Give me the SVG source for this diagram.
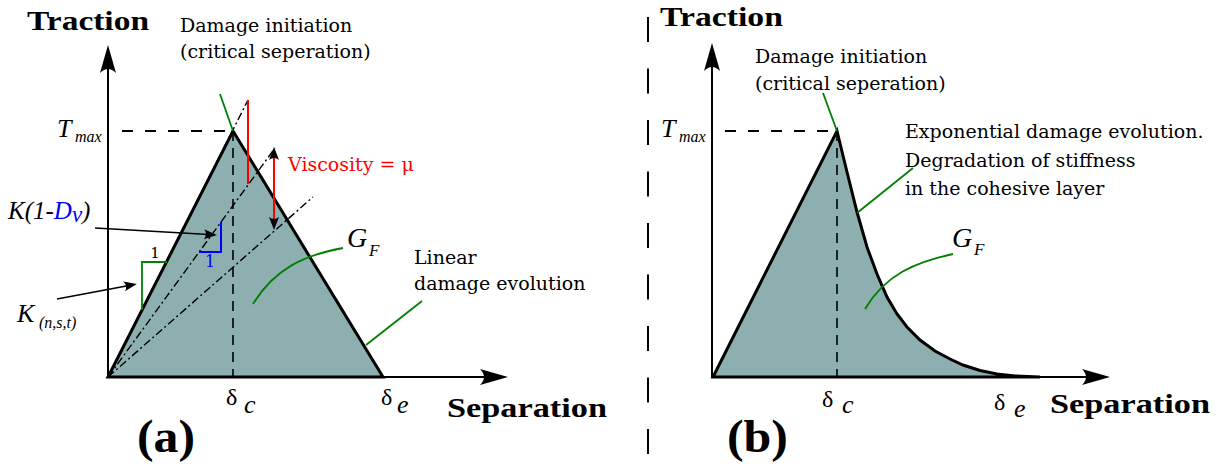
<svg xmlns="http://www.w3.org/2000/svg" width="1223" height="467" viewBox="0 0 1223 467">
<style>
.ax{stroke:#000;stroke-width:2;fill:none}
.edge{stroke:#000;stroke-width:3;fill:#8eafb0;stroke-linejoin:miter}
.dash{stroke:#000;stroke-width:1.8;fill:none;stroke-dasharray:11 12}
.vdash{stroke:#000;stroke-width:1.6;fill:none;stroke-dasharray:10 7}
.dd{stroke:#000;stroke-width:1.4;fill:none;stroke-dasharray:8 3 2 3}
.gr{stroke:#007f00;stroke-width:1.8;fill:none}
.bl{stroke:#0000ff;stroke-width:2;fill:none}
.rd{stroke:#ff0000;stroke-width:2;fill:none}
.ptr{stroke:#000;stroke-width:1.6;fill:none}
</style>
<defs>
<marker id="ah" viewBox="-30 -10 32 20" refX="-20" refY="0" markerWidth="32" markerHeight="20" markerUnits="userSpaceOnUse" orient="auto">
<path d="M0,0 L-28,-8 Q-20,0 -28,8 Z" fill="#000"/>
</marker>
<marker id="sa" viewBox="-14 -6 15 12" refX="-8" refY="0" markerWidth="15" markerHeight="12" markerUnits="userSpaceOnUse" orient="auto-start-reverse">
<path d="M0,0 L-13,-5 Q-9,0 -13,5 Z" fill="#000"/>
</marker>
</defs>
<rect width="1223" height="467" fill="#fff"/>

<!-- Panel (a) -->
<g id="a-shape">
<path class="edge" d="M108,377 L233,131 L383,377 Z"/>
</g>
<g id="a-guides">
<line class="dash" x1="122" y1="131" x2="233" y2="131"/>
<line class="vdash" x1="233" y1="131" x2="233" y2="377"/>
<line class="dd" x1="108" y1="377" x2="248" y2="100"/>
<line class="dd" x1="108" y1="377" x2="275" y2="148"/>
<line class="dd" x1="108" y1="377" x2="313" y2="197"/>
<polyline class="gr" points="142,310 142,262 167,262"/>
<polyline class="bl" points="199,252 221,252 221,222"/>
<line class="rd" x1="248" y1="100" x2="248" y2="184"/>
</g>
<g id="a-connectors">
<line class="ax" x1="108" y1="377" x2="108" y2="65" marker-end="url(#ah)"/>
<line class="ax" x1="108" y1="377" x2="488" y2="377" marker-end="url(#ah)"/>
<line class="rd" x1="274" y1="155" x2="274" y2="222" marker-start="url(#sa)" marker-end="url(#sa)"/>
<line class="ptr" x1="95" y1="228" x2="209" y2="234.5" marker-end="url(#sa)"/>
<line class="ptr" x1="57" y1="299" x2="129" y2="285.5" marker-end="url(#sa)"/>
<line class="gr" x1="220" y1="94" x2="233" y2="131"/>
<path class="gr" d="M343,248 C305,255 275,268 253,304"/>
<line class="gr" x1="422" y1="301" x2="366" y2="345"/>
</g>
<g id="a-labels">
<text x="27" y="30" font-family="Liberation Serif" font-weight="bold" font-size="28" textLength="122" lengthAdjust="spacingAndGlyphs">Traction</text>
<text x="180" y="32" font-family="DejaVu Serif" font-size="19">Damage initiation</text>
<text x="180" y="58" font-family="DejaVu Serif" font-size="19">(critical seperation)</text>
<text x="57" y="137" font-family="Liberation Serif" font-style="italic" font-size="26">T</text>
<text x="75" y="142" font-family="Liberation Serif" font-style="italic" font-size="16">max</text>
<text x="288" y="171" font-family="DejaVu Serif" font-size="19" fill="#ff0000">Viscosity = μ</text>
<text x="8" y="219" font-family="Liberation Serif" font-style="italic" font-size="25">K(1-<tspan fill="#0000ff">D</tspan><tspan fill="#0000ff" font-size="23" dy="3">v</tspan><tspan dy="-3">)</tspan></text>
<text x="210" y="267" font-family="DejaVu Serif" font-size="16" text-anchor="middle" fill="#0000ff">1</text>
<text x="155" y="258" font-family="DejaVu Serif" font-size="15" text-anchor="middle">1</text>
<text x="17" y="322" font-family="Liberation Serif" font-style="italic" font-size="26">K</text>
<text x="39" y="328" font-family="Liberation Serif" font-style="italic" font-size="16">(n,s,t)</text>
<text x="347" y="247" font-family="Liberation Serif" font-style="italic" font-size="28">G</text>
<text x="369" y="256" font-family="Liberation Serif" font-style="italic" font-size="17">F</text>
<text x="414" y="264" font-family="DejaVu Serif" font-size="19">Linear</text>
<text x="414" y="290" font-family="DejaVu Serif" font-size="19">damage evolution</text>
<text x="226" y="405" font-family="Liberation Serif" font-size="24">δ</text>
<text x="244" y="413" font-family="Liberation Serif" font-style="italic" font-size="26">c</text>
<text x="381" y="405" font-family="Liberation Serif" font-size="24">δ</text>
<text x="397" y="413" font-family="Liberation Serif" font-style="italic" font-size="26">e</text>
<text x="447" y="417" font-family="Liberation Serif" font-weight="bold" font-size="27" textLength="160" lengthAdjust="spacingAndGlyphs">Separation</text>
<text x="137" y="452" font-family="Liberation Serif" font-weight="bold" font-size="46" textLength="58" lengthAdjust="spacingAndGlyphs">(a)</text>
</g>

<!-- Divider -->
<g id="divider">
<line x1="648" y1="17" x2="648" y2="467" stroke="#000" stroke-width="2" stroke-dasharray="25 26.5"/>
</g>

<!-- Panel (b) -->
<g id="b-shape">
<path class="edge" d="M713,377 L837,131 L847,172 L857,212 L867,247 L877,274 L887,297 L897,314 L907,327 L920,340 L935,351 L950,359 L963,365 L980,370.5 L997,374 L1015,376 L1040,377 Z"/>
</g>
<g id="b-guides">
<line class="dash" x1="725" y1="131" x2="837" y2="131"/>
<line class="vdash" x1="837" y1="131" x2="837" y2="377"/>
</g>
<g id="b-connectors">
<line class="ax" x1="712" y1="377" x2="712" y2="63" marker-end="url(#ah)"/>
<line class="ax" x1="712" y1="377" x2="1090" y2="377" marker-end="url(#ah)"/>
<line class="gr" x1="823" y1="93" x2="837" y2="131"/>
<line class="gr" x1="913" y1="168" x2="857" y2="213"/>
<path class="gr" d="M953,254 C915,262 885,275 865,309"/>
</g>
<g id="b-labels">
<text x="660" y="26" font-family="Liberation Serif" font-weight="bold" font-size="28" textLength="123" lengthAdjust="spacingAndGlyphs">Traction</text>
<text x="755" y="63" font-family="DejaVu Serif" font-size="19">Damage initiation</text>
<text x="755" y="90" font-family="DejaVu Serif" font-size="19">(critical seperation)</text>
<text x="661" y="137" font-family="Liberation Serif" font-style="italic" font-size="26">T</text>
<text x="679" y="142" font-family="Liberation Serif" font-style="italic" font-size="16">max</text>
<text x="905" y="138" font-family="DejaVu Serif" font-size="19">Exponential damage evolution.</text>
<text x="905" y="167" font-family="DejaVu Serif" font-size="19">Degradation of stiffness</text>
<text x="905" y="195" font-family="DejaVu Serif" font-size="19">in the cohesive layer</text>
<text x="952" y="247" font-family="Liberation Serif" font-style="italic" font-size="28">G</text>
<text x="974" y="255" font-family="Liberation Serif" font-style="italic" font-size="17">F</text>
<text x="822" y="407" font-family="Liberation Serif" font-size="24">δ</text>
<text x="842" y="413" font-family="Liberation Serif" font-style="italic" font-size="26">c</text>
<text x="994" y="410" font-family="Liberation Serif" font-size="24">δ</text>
<text x="1014" y="417" font-family="Liberation Serif" font-style="italic" font-size="26">e</text>
<text x="1050" y="413" font-family="Liberation Serif" font-weight="bold" font-size="27" textLength="160" lengthAdjust="spacingAndGlyphs">Separation</text>
<text x="727" y="452" font-family="Liberation Serif" font-weight="bold" font-size="46" textLength="61" lengthAdjust="spacingAndGlyphs">(b)</text>
</g>
</svg>
